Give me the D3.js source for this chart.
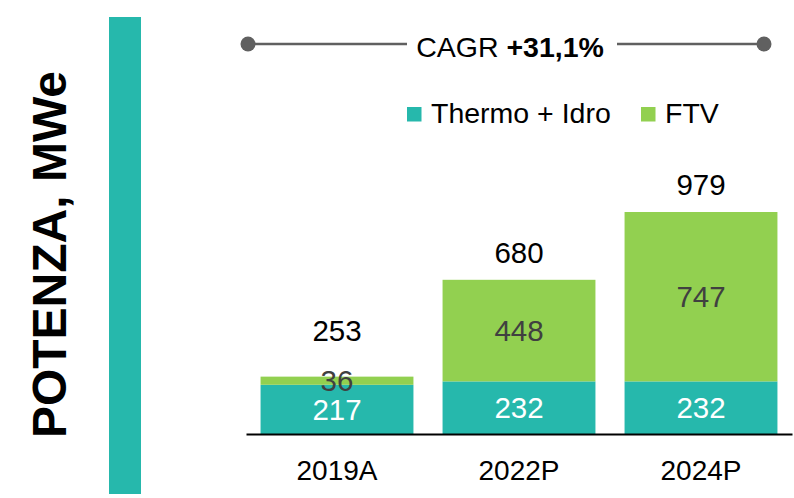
<!DOCTYPE html>
<html>
<head>
<meta charset="utf-8">
<script src="https://cdn.jsdelivr.net/npm/d3@7"></script>
<style>
  html, body { margin: 0; padding: 0; background: #fff; }
  svg { display: block; font-family: "Liberation Sans", Arial, sans-serif; }
</style>
</head>
<body>
<svg id="chart" width="794" height="498"></svg>
<script>
// Installed capacity (MWe) by year, split by source
const categories = ["2019A", "2022P", "2024P"];
const thermoIdro = [217, 232, 232];
const ftv = [36, 448, 747];
const totals = [253, 680, 979];
const seriesNames = ["Thermo + Idro", "FTV"];
const cagrLabel = "CAGR ";
const cagrValue = "+31,1%";
const axisTitle = "POTENZA, MWe";

const TEAL = "#26b8ac";
const GREEN = "#92d050";
const colors = [TEAL, GREEN];

const svg = d3.select("#chart");

// Side banner and rotated title
svg.append("rect")
  .attr("x", 109).attr("y", 17).attr("width", 32).attr("height", 477)
  .attr("fill", TEAL);

svg.append("text")
  .attr("transform", "translate(66,254.5) rotate(-90)")
  .attr("text-anchor", "middle")
  .attr("font-size", 48)
  .attr("font-weight", "bold")
  .attr("fill", "#000")
  .text(axisTitle);

// Scales
const x = d3.scaleBand()
  .domain(categories)
  .range([246, 792])
  .paddingInner(0.16)
  .paddingOuter(0.08);

const y = d3.scaleLinear()
  .domain([0, d3.max(totals)])
  .range([434, 212]);

// Stacked data
const rows = categories.map((c, i) => ({ cat: c, thermo: thermoIdro[i], ftv: ftv[i], total: totals[i] }));
const stack = d3.stack().keys(["thermo", "ftv"]);
const layers = stack(rows);

const g = svg.append("g");

layers.forEach((layer, li) => {
  g.selectAll(null)
    .data(layer)
    .enter()
    .append("rect")
    .attr("x", d => x(d.data.cat))
    .attr("width", x.bandwidth())
    .attr("y", d => y(d[1]))
    .attr("height", d => y(d[0]) - y(d[1]))
    .attr("fill", colors[li]);
});

// Baseline axis
const xAxis = d3.axisBottom(x).tickSize(0).tickPadding(0);
const axisG = svg.append("g")
  .attr("transform", `translate(0,${y(0)})`)
  .call(xAxis);
axisG.select(".domain").attr("stroke", "#000").attr("stroke-width", 2);
axisG.selectAll(".tick text")
  .attr("font-size", 28)
  .attr("font-family", "'Liberation Sans', Arial, sans-serif")
  .attr("fill", "#000")
  .attr("dy", null)
  .attr("y", 46);

// Segment value labels, centred in each segment
const valueFont = 29.5;
const capHalf = valueFont * 0.716 / 2;
layers.forEach((layer, li) => {
  g.selectAll(null)
    .data(layer)
    .enter()
    .append("text")
    .attr("x", d => x(d.data.cat) + x.bandwidth() / 2)
    .attr("y", d => (y(d[0]) + y(d[1])) / 2 + capHalf)
    .attr("text-anchor", "middle")
    .attr("font-size", valueFont)
    .attr("fill", li === 0 ? "#fff" : "#404040")
    .text(d => d[1] - d[0]);
});

// Totals above each bar, lifted clear of the inner label when the top segment is thin
const topLayer = layers[layers.length - 1];
g.selectAll(null)
  .data(rows)
  .enter()
  .append("text")
  .attr("x", d => x(d.cat) + x.bandwidth() / 2)
  .attr("y", (d, i) => {
    const seg = topLayer[i];
    const innerTop = (y(seg[0]) + y(seg[1])) / 2 - capHalf;
    return Math.min(y(d.total) - 17, innerTop - 29);
  })
  .attr("text-anchor", "middle")
  .attr("font-size", valueFont)
  .attr("fill", "#000")
  .text(d => d.total);

// Legend
const legend = svg.append("g").attr("font-size", 28.5);
const legendX = [407, 641];
seriesNames.forEach((name, i) => {
  legend.append("rect")
    .attr("x", legendX[i]).attr("y", 107)
    .attr("width", 14.5).attr("height", 14.5)
    .attr("fill", colors[i]);
  legend.append("text")
    .attr("x", legendX[i] + 24).attr("y", 122.5)
    .attr("fill", "#000")
    .text(name);
});

// CAGR bracket
const cagrY = 44;
const cagrG = svg.append("g");
cagrG.append("line")
  .attr("x1", 248).attr("x2", 407).attr("y1", cagrY).attr("y2", cagrY)
  .attr("stroke", "#606060").attr("stroke-width", 2.5);
cagrG.append("line")
  .attr("x1", 617).attr("x2", 764).attr("y1", cagrY).attr("y2", cagrY)
  .attr("stroke", "#606060").attr("stroke-width", 2.5);
[248, 764].forEach(cx => {
  cagrG.append("circle")
    .attr("cx", cx).attr("cy", cagrY).attr("r", 7.5)
    .attr("fill", "#606060");
});
const cagrText = cagrG.append("text")
  .attr("x", 510).attr("y", 57)
  .attr("text-anchor", "middle")
  .attr("font-size", 28.5)
  .attr("fill", "#000");
cagrText.append("tspan").text(cagrLabel);
cagrText.append("tspan").attr("font-weight", "bold").text(cagrValue);
</script>
</body>
</html>
